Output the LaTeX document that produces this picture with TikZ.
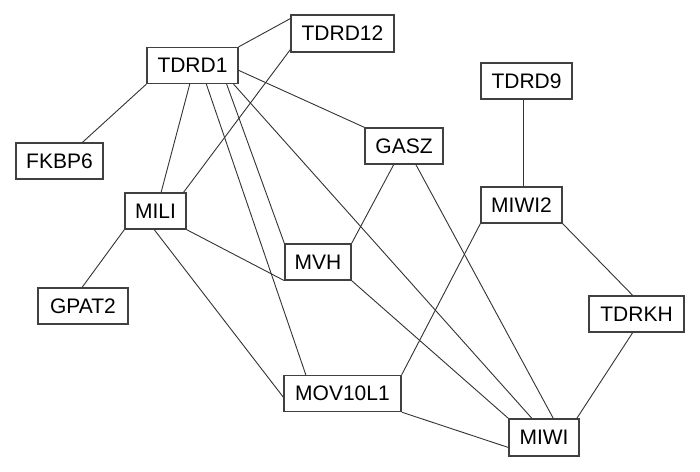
\documentclass[tikz,border=0pt]{standalone}
\usepackage{fontspec}
\setmainfont{Liberation Sans}
\usetikzlibrary{calc}
\newcommand{\eTop}[2]{($(#1.north west)!#2!(#1.north east)$)}
\newcommand{\eBot}[2]{($(#1.south west)!#2!(#1.south east)$)}
\newcommand{\eLft}[2]{($(#1.north west)!#2!(#1.south west)$)}
\newcommand{\eRgt}[2]{($(#1.north east)!#2!(#1.south east)$)}
\begin{document}
\begin{tikzpicture}[x=1pt,y=-1pt,
  gbox/.style={draw=black!75, line width=1.3pt, inner sep=0pt,
    minimum height=36pt, font=\fontsize{21}{25}\selectfont, text=black},
  link/.style={draw=black!80, line width=0.9pt}]
\fill[white] (0,0) rectangle (700,471);
\useasboundingbox (0,0) rectangle (700,471);
% nodes
\node[gbox, minimum width=91pt]  (TDRD1)   at (192.5,65.5) {TDRD1};
\node[gbox, minimum width=103pt, minimum height=37pt] (TDRD12)  at (342.5,33.5) {TDRD12};
\node[gbox, minimum width=87pt]  (FKBP6)   at (59.5,161)   {FKBP6};
\node[gbox, minimum width=61pt]  (MILI)    at (155.5,211)  {MILI};
\node[gbox, minimum width=90pt]  (GPAT2)   at (83,306)     {GPAT2};
\node[gbox, minimum width=78pt]  (GASZ)    at (404,146)    {GASZ};
\node[gbox, minimum width=66pt]  (MVH)     at (318,262)    {MVH};
\node[gbox, minimum width=91pt]  (TDRD9)   at (526.5,81)   {TDRD9};
\node[gbox, minimum width=81pt]  (MIWI2)   at (521.5,205)  {MIWI2};
\node[gbox, minimum width=95pt]  (TDRKH)   at (636.5,314)  {TDRKH};
\node[gbox, minimum width=117pt] (MOV10L1) at (342.5,393.5){MOV10L1};
\node[gbox, minimum width=70pt, minimum height=37pt] (MIWI) at (544,437.5) {MIWI};
\coordinate (t9) at ($(TDRD9.south west)!0.47!(TDRD9.south east)$);
% edges
\path[link] (TDRD1.north east) -- \eLft{TDRD12}{0.11};
\path[link] (TDRD1.south west) -- \eTop{FKBP6}{0.76};
\path[link] \eBot{TDRD1}{0.47} -- \eTop{MILI}{0.59};
\path[link] \eBot{TDRD1}{0.65} -- \eTop{MOV10L1}{0.19};
\path[link] \eBot{TDRD1}{0.87} -- (MVH.north west);
\path[link] \eBot{TDRD1}{0.945} -- \eTop{MIWI}{0.33};
\path[link] \eRgt{TDRD1}{0.63} -- (GASZ.north west);
\path[link] \eLft{TDRD12}{0.92} -- \eTop{MILI}{0.95};
\path[link] (MILI.south west) -- \eTop{GPAT2}{0.49};
\path[link] \eBot{MILI}{0.48} -- \eLft{MOV10L1}{0.6};
\path[link] (MILI.south east) -- (MVH.south west);
\path[link] \eBot{GASZ}{0.37} -- (MVH.north east);
\path[link] \eBot{GASZ}{0.65} -- \eTop{MIWI}{0.63};
\path[link] (t9) -- (t9 |- MIWI2.north);
\path[link] (MIWI2.south west) -- (MOV10L1.north east);
\path[link] (MIWI2.south east) -- \eTop{TDRKH}{0.46};
\path[link] \eBot{TDRKH}{0.46} -- \eTop{MIWI}{0.96};
\path[link] (MVH.south east) -- (MIWI.north west);
\path[link] (MOV10L1.south east) -- \eLft{MIWI}{0.76};
\end{tikzpicture}
\end{document}
